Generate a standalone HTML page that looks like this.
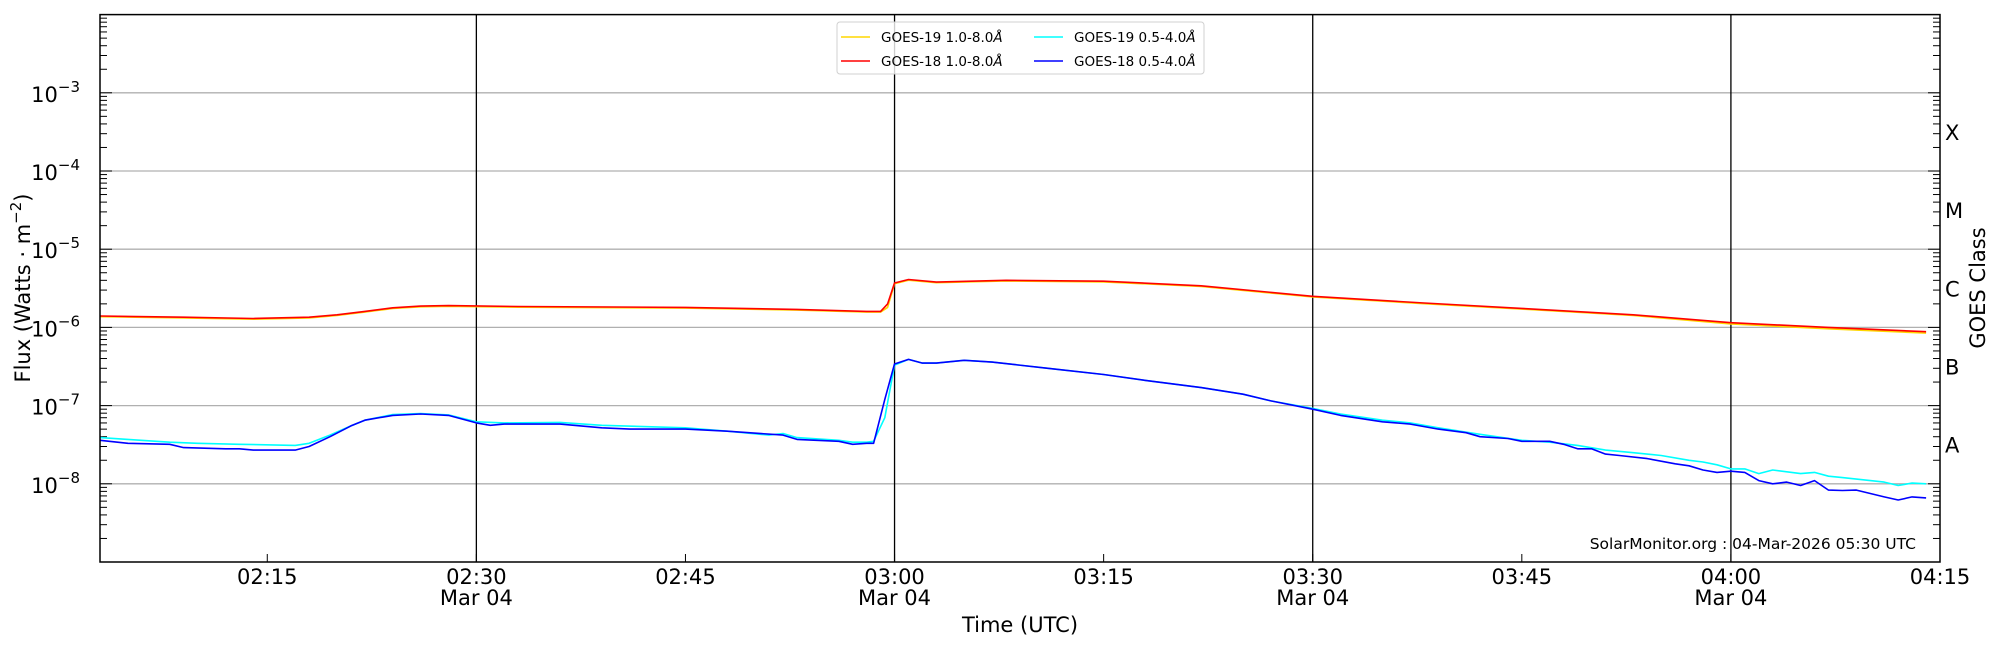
<!DOCTYPE html>
<html><head><meta charset="utf-8"><style>
html,body{margin:0;padding:0;background:#fff;}
svg{display:block;font-family:"DejaVu Sans","Liberation Sans",sans-serif;}
</style></head><body>
<svg id="s" width="2000" height="650" xmlns="http://www.w3.org/2000/svg"></svg>
<script>
const s=document.getElementById('s');
const L=100,R=1940,T=14.6,B=562;
const X=m=>L+m*(R-L)/132;
const Y=v=>T+( -2 - Math.log10(v))*(B-T)/7;
let h='';
for(let e=-3;e>=-8;e--){const y=Y(Math.pow(10,e));h+=`<line x1="${L}" x2="${R}" y1="${y}" y2="${y}" stroke="#b0b0b0" stroke-width="1.3"/>`;}
[27,57,87,117].forEach(m=>{const x=X(m);h+=`<line x1="${x}" x2="${x}" y1="${T}" y2="${B}" stroke="#000" stroke-width="1.3"/>`;});
for(let e=-9;e<-2;e++){for(let k=1;k<10;k++){const v=k*Math.pow(10,e);const y=Y(v);if(y<T||y>B)continue;const len=k==1?12:7;
h+=`<line x1="${L}" x2="${L+len}" y1="${y}" y2="${y}" stroke="#000" stroke-width="1"/>`;
h+=`<line x1="${R}" x2="${R-len}" y1="${y}" y2="${y}" stroke="#000" stroke-width="1"/>`;}}
for(let e=-3;e>=-8;e--){const y=Y(Math.pow(10,e));h+=`<text x="80" y="${y+9}" font-size="21" text-anchor="end">10<tspan dy="-10" font-size="15">−${-e}</tspan></text>`;}
const xt=[[12,'02:15',0],[27,'02:30',1],[42,'02:45',0],[57,'03:00',1],[72,'03:15',0],[87,'03:30',1],[102,'03:45',0],[117,'04:00',1],[132,'04:15',0]];
xt.forEach(([m,t,d])=>{const x=X(m);h+=`<line x1="${x}" x2="${x}" y1="${B}" y2="${B-8}" stroke="#000"/>`;
h+=`<text x="${x}" y="584" font-size="21" text-anchor="middle">${t}</text>`;if(d)h+=`<text x="${x}" y="605" font-size="21" text-anchor="middle">Mar 04</text>`;});
h+=`<text x="1020" y="632" font-size="21" text-anchor="middle">Time (UTC)</text>`;
h+=`<text transform="translate(30,288) rotate(-90)" font-size="21" text-anchor="middle">Flux (Watts · m<tspan dy="-9" font-size="15">−2</tspan><tspan dy="9">)</tspan></text>`;
['X','M','C','B','A'].forEach((c,i)=>{const y=Y(Math.pow(10,-3.5-i));h+=`<text x="1945" y="${y+8}" font-size="21">${c}</text>`;});
h+=`<text transform="translate(1985,288) rotate(-90)" font-size="21" text-anchor="middle">GOES Class</text>`;
function path(pts,col,w){return `<polyline fill="none" stroke="${col}" stroke-width="${w}" stroke-linejoin="round" points="${pts.map(p=>X(p[0]).toFixed(1)+','+Y(p[1]).toFixed(1)).join(' ')}"/>`;}
const red=[[0,1.4e-6],[6,1.35e-6],[11,1.3e-6],[15,1.35e-6],[17,1.45e-6],[19,1.6e-6],[21,1.78e-6],[23,1.87e-6],[25,1.9e-6],[30,1.85e-6],[42,1.8e-6],[50,1.7e-6],[55,1.6e-6],[56,1.6e-6],[56.5,2e-6],[57,3.7e-6],[58,4.1e-6],[60,3.8e-6],[65,4e-6],[72,3.9e-6],[79,3.4e-6],[87,2.5e-6],[95,2.05e-6],[102,1.75e-6],[110,1.45e-6],[117,1.15e-6],[124,1.0e-6],[131,0.88e-6]];
const yel=red.map(p=>[p[0],p[1]*(p[0]>110?0.96:0.98)]);yel[14]=[56.5,1.8e-6];
const blue=[[0,3.6e-8],[2,3.3e-8],[5,3.2e-8],[6,2.9e-8],[9,2.8e-8],[10,2.8e-8],[11,2.7e-8],[14,2.7e-8],[15,3e-8],[16.5,4e-8],[18,5.5e-8],[19,6.5e-8],[21,7.5e-8],[23,7.8e-8],[25,7.5e-8],[27,6e-8],[28,5.6e-8],[29,5.8e-8],[33,5.8e-8],[36,5.2e-8],[38,5e-8],[42,5e-8],[45,4.7e-8],[49,4.2e-8],[50,3.7e-8],[53,3.5e-8],[54,3.2e-8],[55,3.3e-8],[55.5,3.3e-8],[56.3,1.2e-7],[57,3.4e-7],[58,3.9e-7],[59,3.5e-7],[60,3.5e-7],[62,3.8e-7],[64,3.6e-7],[68,3e-7],[72,2.5e-7],[75,2.1e-7],[79,1.7e-7],[82,1.4e-7],[84,1.15e-7],[87,9e-8],[89,7.5e-8],[92,6.2e-8],[94,5.8e-8],[96,5e-8],[98,4.5e-8],[99,4e-8],[101,3.8e-8],[102,3.5e-8],[104,3.5e-8],[105,3.2e-8],[106,2.8e-8],[107,2.8e-8],[108,2.4e-8],[109,2.3e-8],[111,2.1e-8],[113,1.8e-8],[114,1.7e-8],[115,1.5e-8],[116,1.4e-8],[117,1.45e-8],[118,1.4e-8],[119,1.1e-8],[120,1e-8],[121,1.05e-8],[122,9.5e-9],[123,1.1e-8],[124,8.3e-9],[125,8.2e-9],[126,8.3e-9],[128,6.8e-9],[129,6.2e-9],[130,6.8e-9],[131,6.6e-9]];
const cyan=[[0,3.9e-8],[2,3.7e-8],[5,3.4e-8],[7,3.3e-8],[10,3.2e-8],[14,3.1e-8],[15,3.3e-8],[16.5,4.2e-8],[18,5.5e-8],[19,6.5e-8],[21,7.7e-8],[23,7.9e-8],[25,7.6e-8],[27,6.2e-8],[29,6e-8],[33,6.1e-8],[36,5.6e-8],[42,5.2e-8],[45,4.7e-8],[48,4.2e-8],[49,4.4e-8],[50,3.9e-8],[53,3.6e-8],[54,3.4e-8],[55,3.4e-8],[55.5,3.5e-8],[56.3,7e-8],[57,3.3e-7],[58,3.9e-7],[59,3.5e-7],[60,3.5e-7],[62,3.8e-7],[64,3.6e-7],[68,3e-7],[72,2.5e-7],[75,2.1e-7],[79,1.7e-7],[82,1.4e-7],[84,1.15e-7],[87,9.2e-8],[89,7.8e-8],[92,6.5e-8],[94,6e-8],[96,5.2e-8],[99,4.3e-8],[102,3.6e-8],[104,3.4e-8],[106,3.1e-8],[108,2.7e-8],[110,2.5e-8],[112,2.3e-8],[114,2e-8],[115,1.9e-8],[116,1.75e-8],[117,1.55e-8],[118,1.55e-8],[119,1.35e-8],[120,1.5e-8],[122,1.35e-8],[123,1.4e-8],[124,1.25e-8],[125,1.2e-8],[128,1.05e-8],[129,9.5e-9],[130,1.02e-8],[131,1.0e-8]];
h+=path(cyan,'#00ffff',1.6)+path(blue,'#0000ff',1.6)+path(yel,'#ffd700',1.6)+path(red,'#ff0000',1.6);
h+=`<rect x="${L}" y="${T}" width="${R-L}" height="${B-T}" fill="none" stroke="#000" stroke-width="1.5"/>`;
h+=`<rect x="837" y="22" width="367" height="52" rx="3" fill="#fff" fill-opacity="0.8" stroke="#d0d0d0"/>`;
const lg=[[841,37,'#ffd700','GOES-19 1.0-8.0'],[841,61,'#ff0000','GOES-18 1.0-8.0'],[1034,37,'#00ffff','GOES-19 0.5-4.0'],[1034,61,'#0000ff','GOES-18 0.5-4.0']];
lg.forEach(([x,y,c,t])=>{h+=`<line x1="${x}" x2="${x+29}" y1="${y}" y2="${y}" stroke="${c}" stroke-width="1.5"/><text x="${x+40}" y="${y+5}" font-size="13.5">${t}<tspan font-style="italic">Å</tspan></text>`;});
h+=`<text x="1916" y="549" font-size="15.5" text-anchor="end">SolarMonitor.org : 04-Mar-2026 05:30 UTC</text>`;
s.innerHTML=h;
</script>
</body></html>
